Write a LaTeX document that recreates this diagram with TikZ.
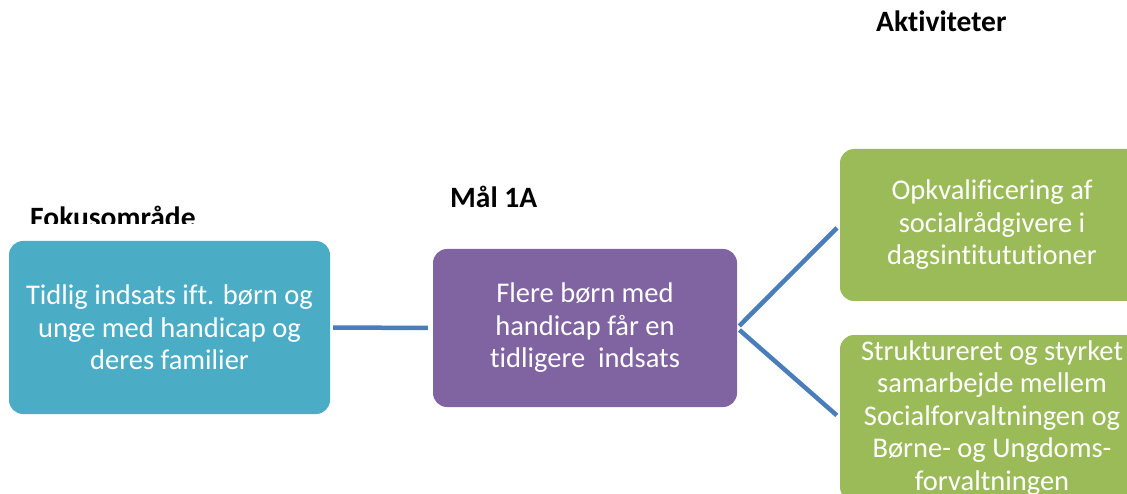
\documentclass[tikz,border=0pt]{standalone}
\usepackage{fontspec}
\setmainfont{Carlito}[Ligatures=NoCommon]
\begin{document}
\begin{tikzpicture}[x=1pt,y=-1pt,
  box/.style={rectangle, rounded corners=14pt, align=center, text=white,
    font=\fontsize{28.5}{32.5}\selectfont, inner sep=0pt},
  head/.style={font=\bfseries\fontsize{29.5}{33}\selectfont, inner sep=0pt},
  conn/.style={draw=lineblue, line width=4.5pt}]
\definecolor{fblue}{HTML}{4BACC6}
\definecolor{fpurple}{HTML}{8064A2}
\definecolor{fgreen}{HTML}{9BBB59}
\definecolor{lineblue}{HTML}{4A7EBB}
\useasboundingbox (0,0) rectangle (1127,494);
\clip (0,0) rectangle (1127,494);
\node[box, fill=fblue, minimum width=321pt, minimum height=173pt] (focus) at (169.5,327.5)
  {Tidlig indsats ift. børn og\\unge med handicap og\\deres familier};
\node[box, fill=fpurple, minimum width=304pt, minimum height=158pt] (goal) at (585,328)
  {Flere børn med\\handicap får en\\tidligere\ \ indsats};
\node[box, fill=fgreen, minimum width=304pt, minimum height=152pt] (act1) at (992,225)
  {Opkvalificering af\\socialrådgivere i\\dagsintitututioner};
\node[box, fill=fgreen, minimum width=304pt, minimum height=166pt] (act2) at (992,418)
  {Struktureret og styrket\\samarbejde mellem\\Socialforvaltningen og\\Børne- og Ungdoms-\\forvaltningen};
\begin{scope}
\clip (0,0) rectangle (1127,224);
\node[head, anchor=base west] (fokhead) at (30,228) {Fokusområde};
\end{scope}
\node[head, anchor=base west] (malhead) at (450,208) {Mål 1A};
\node[head, anchor=base west] (akthead) at (876,32) {Aktiviteter};
\draw[conn, shorten <=3pt, shorten >=5pt] (focus.east) -- (goal.west);
\draw[conn, shorten <=3pt, shorten >=4pt] (goal.east) -- (act1.west);
\draw[conn, shorten <=3pt, shorten >=4pt] (goal.east) -- (act2.west);
\end{tikzpicture}
\end{document}
